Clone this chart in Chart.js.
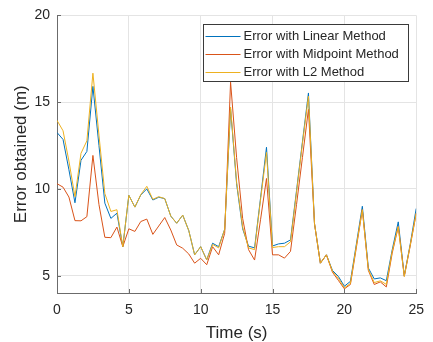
<!DOCTYPE html>
<html>
<head>
<meta charset="utf-8">
<script src="https://cdn.jsdelivr.net/npm/chart.js@4.4.1/dist/chart.umd.min.js"></script>
<style>
  html, body { margin: 0; padding: 0; background: #fff; }
</style>
</head>
<body>
<canvas id="errChart" width="433" height="342"></canvas>
<script>
// ── data ─────────────────────────────────────────────────
const timeS = [0, 0.42, 0.83, 1.25, 1.67, 2.08, 2.5, 2.92, 3.33, 3.75, 4.17, 4.58, 5, 5.42, 5.83, 6.25, 6.67, 7.08, 7.5, 7.92,
    8.33, 8.75, 9.17, 9.58, 10, 10.42, 10.83, 11.25, 11.67, 12.08, 12.5, 12.92, 13.33, 13.75, 14.17, 14.58, 15, 15.42, 15.83, 16.25,
    16.67, 17.08, 17.5, 17.92, 18.33, 18.75, 19.17, 19.58, 20, 20.42, 20.83, 21.25, 21.67, 22.08, 22.5, 22.92, 23.33, 23.75, 24.17, 24.58, 25];

const errLinear = [13.25, 12.85, 11.1, 9.2, 11.65, 12.16, 15.91, 12.5, 9.18, 8.3, 8.6, 6.67, 9.63, 8.95, 9.65, 10.0, 9.36, 9.52, 9.44, 8.43,
    8.02, 8.49, 7.6, 6.2, 6.67, 5.91, 6.87, 6.67, 7.67, 14.6, 10.3, 7.7, 6.7, 6.6, 9.5, 12.4, 6.71, 6.83, 6.87, 7.06,
    9.9, 12.7, 15.53, 8.0, 5.72, 6.2, 5.3, 4.96, 4.39, 4.67, 6.8, 9.0, 5.44, 4.81, 4.87, 4.71, 6.49, 8.1, 5.0, 6.8, 8.87];

const errMidpoint = [10.3, 10.1, 9.53, 8.17, 8.16, 8.4, 11.93, 9.1, 7.21, 7.19, 7.8, 6.67, 7.7, 7.55, 8.12, 8.26, 7.38, 7.86, 8.35, 7.63,
    6.77, 6.58, 6.25, 5.72, 6.0, 5.63, 6.67, 6.2, 7.44, 16.15, 11.8, 8.3, 6.5, 5.9, 8.25, 10.6, 6.2, 6.2, 6.01, 6.4,
    9.1, 11.8, 14.58, 8.0, 5.72, 6.2, 5.2, 4.73, 4.24, 4.49, 6.6, 8.8, 5.3, 4.49, 4.64, 4.35, 6.3, 7.82, 4.96, 6.7, 8.58];

const errL2 = [13.95, 13.35, 11.6, 9.55, 12.05, 12.77, 16.67, 13.1, 9.73, 8.7, 8.8, 6.67, 9.63, 8.95, 9.67, 10.15, 9.4, 9.55, 9.44, 8.43,
    8.02, 8.49, 7.6, 6.2, 6.67, 5.91, 6.8, 6.6, 7.67, 14.72, 10.4, 7.8, 6.6, 6.5, 9.4, 12.1, 6.62, 6.67, 6.67, 6.95,
    9.8, 12.6, 15.34, 8.0, 5.72, 6.2, 5.25, 4.85, 4.3, 4.55, 6.7, 8.8, 5.35, 4.6, 4.7, 4.5, 6.4, 7.82, 4.96, 6.75, 8.6];

const seriesNames = ['Error with Linear Method', 'Error with Midpoint Method', 'Error with L2 Method'];
const xTicks = [0, 5, 10, 15, 20, 25];
const yTicks = [5, 10, 15, 20];

// ── styling ──────────────────────────────────────────────
const FONT = "'Liberation Sans', Arial, sans-serif";
const colors = ['#0072BD', '#D95319', '#EDB120'];
const axisColor = '#6b6b6b';
const gridColor = '#e4e4e4';
const textColor = '#262626';

const toPoints = vals => vals.map((v, i) => ({x: timeS[i], y: v}));
const allSeries = [errLinear, errMidpoint, errL2];

// inward tick marks + boxed legend drawn inside the plot, like the MATLAB figure
const matlabExtras = {
    id: 'matlabExtras',
    afterDraw(chart) {
        const {ctx, chartArea: a, scales: {x, y}} = chart;
        ctx.save();
        ctx.strokeStyle = axisColor;
        ctx.lineWidth = 1;
        ctx.beginPath();
        xTicks.forEach(v => {
            const px = Math.round(x.getPixelForValue(v)) + 0.5;
            ctx.moveTo(px, a.bottom);
            ctx.lineTo(px, a.bottom - 4);
        });
        yTicks.forEach(v => {
            const py = Math.round(y.getPixelForValue(v)) + 0.5;
            ctx.moveTo(a.left, py);
            ctx.lineTo(a.left + 4, py);
        });
        ctx.stroke();

        // legend
        const boxW = 205, boxH = 57;
        const bx = Math.round(a.right - 8 - boxW) + 0.5;
        const by = Math.round(a.top + 9) + 0.5;
        ctx.fillStyle = '#fff';
        ctx.fillRect(bx, by, boxW, boxH);
        ctx.strokeStyle = '#3a3a3a';
        ctx.strokeRect(bx, by, boxW, boxH);
        ctx.font = '13px ' + FONT;
        ctx.textBaseline = 'middle';
        ctx.textAlign = 'left';
        seriesNames.forEach((name, i) => {
            const ry = Math.round(by + 11 + i * 18.3) + 0.5;
            ctx.strokeStyle = colors[i];
            ctx.beginPath();
            ctx.moveTo(bx + 2, ry);
            ctx.lineTo(bx + 37, ry);
            ctx.stroke();
            ctx.fillStyle = textColor;
            ctx.fillText(name, bx + 40, ry);
        });
        ctx.restore();
    }
};

new Chart(document.getElementById('errChart'), {
    type: 'line',
    data: {
        datasets: allSeries.map((vals, i) => ({
            label: seriesNames[i],
            data: toPoints(vals),
            borderColor: colors[i],
            backgroundColor: colors[i],
            borderWidth: 1,
            pointRadius: 0,
            tension: 0,
            fill: false,
            order: 3 - i
        }))
    },
    options: {
        responsive: false,
        animation: false,
        devicePixelRatio: 1,
        layout: {padding: {top: 13.5, right: 9, bottom: 0, left: 0}},
        plugins: {legend: {display: false}, tooltip: {enabled: false}},
        scales: {
            x: {
                type: 'linear',
                min: 0,
                max: 25,
                afterBuildTicks: s => { s.ticks = xTicks.map(v => ({value: v})); },
                afterFit: s => { s.height = 49; },
                grid: {color: gridColor, drawTicks: false},
                border: {color: axisColor, width: 1},
                ticks: {color: textColor, padding: 9, font: {family: FONT, size: 14}},
                title: {display: true, text: 'Time (s)', color: textColor, padding: 0,
                    font: {family: FONT, size: 17, lineHeight: 1}}
            },
            y: {
                min: 4,
                max: 20,
                afterBuildTicks: s => { s.ticks = yTicks.map(v => ({value: v})); },
                afterFit: s => { s.width = 57; },
                grid: {color: gridColor, drawTicks: false},
                border: {color: axisColor, width: 1},
                ticks: {color: textColor, padding: 7, font: {family: FONT, size: 14}},
                title: {display: true, text: 'Error obtained (m)', color: textColor, padding: {top: 13, bottom: 0},
                    font: {family: FONT, size: 17, lineHeight: 1}}
            }
        }
    },
    plugins: [matlabExtras]
});
</script>
</body>
</html>
